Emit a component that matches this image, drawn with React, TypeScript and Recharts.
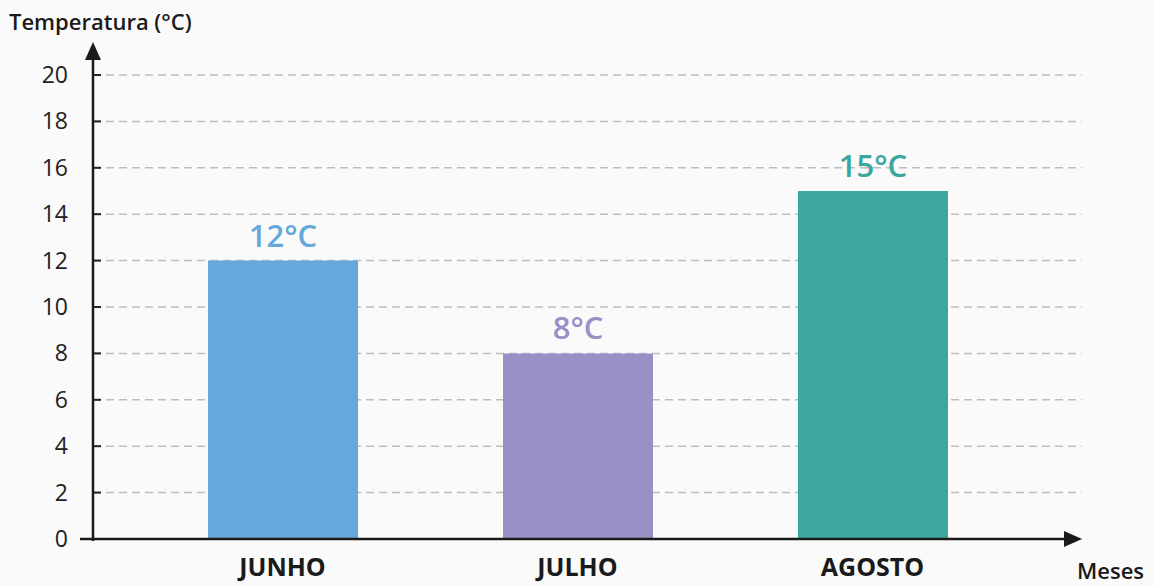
import React from "react";
import { BarChart, Bar, XAxis, YAxis, CartesianGrid, Cell, LabelList } from "recharts";

const months = ["JUNHO", "JULHO", "AGOSTO"];
const temperatures = [12, 8, 15];
const barColors = ["#67a8dc", "#9a90c5", "#3ca69f"];
const yTicks = [0, 2, 4, 6, 8, 10, 12, 14, 16, 18, 20];

const data = months.map((m, i) => ({ month: m, temp: temperatures[i], color: barColors[i] }));

const FONT = "'Open Sans', 'Noto Sans', sans-serif";

const YTick = (props: any) => {
  const { x, y, payload } = props;
  return (
    <g>
      <line x1={x + 25} x2={x + 33} y1={y} y2={y} stroke="#222" strokeWidth={2} />
      <text x={x} y={y} dy={8} textAnchor="end" fontSize={23} fill="#222" fontFamily={FONT}>
        {payload.value}
      </text>
    </g>
  );
};

const XTick = (props: any) => {
  const { x, y, payload } = props;
  return (
    <text x={x} y={y} dy={29} textAnchor="middle" fontSize={25} fontWeight={700} fill="#1a1a1a" fontFamily={FONT}>
      {payload.value}
    </text>
  );
};

const BarLabel = (props: any) => {
  const { x, y, width, index } = props;
  return (
    <text x={x + width / 2} y={y - 14} textAnchor="middle" fontSize={31} fontWeight={600} fill={barColors[index]} fontFamily={FONT}>
      {temperatures[index]}°C
    </text>
  );
};

export default function App() {
  return (
    <div style={{ position: "absolute", left: 0, top: 0, width: 1154, height: 586, background: "#fafafa", fontFamily: FONT }}>
      <BarChart
        width={1154}
        height={586}
        data={data}
        margin={{ top: 75, right: 72, bottom: 17, left: 33 }}
        barSize={150}
      >
        <CartesianGrid vertical={false} stroke="#bdbdbd" strokeDasharray="8 5" strokeWidth={1.5} />
        <XAxis
          dataKey="month"
          height={30}
          axisLine={false}
          tickLine={false}
          tick={<XTick />}
          padding={{ left: 42, right: 62 }}
          interval={0}
        />
        <YAxis
          width={60}
          domain={[0, 20]}
          ticks={yTicks}
          axisLine={false}
          tickLine={false}
          tickSize={0}
          tickMargin={25}
          tick={<YTick />}
          interval={0}
        />
        <Bar dataKey="temp" isAnimationActive={false}>
          {data.map((d, i) => (
            <Cell key={i} fill={d.color} />
          ))}
          <LabelList dataKey="temp" content={<BarLabel />} />
        </Bar>
      </BarChart>
      <svg width={1154} height={586} style={{ position: "absolute", left: 0, top: 0, pointerEvents: "none" }}>
        <line x1={93} y1={541} x2={93} y2={52} stroke="#1a1a1a" strokeWidth={2.5} />
        <polygon points="93,42 85,60 101,60" fill="#1a1a1a" />
        <line x1={80} y1={539} x2={1070} y2={539} stroke="#1a1a1a" strokeWidth={2.5} />
        <polygon points="1082,539 1064,531 1064,547" fill="#1a1a1a" />
        <text x={9} y={30} fontSize={22} fontWeight={600} fill="#1a1a1a" fontFamily={FONT}>
          Temperatura (°C)
        </text>
        <text x={1077} y={579} fontSize={22} fontWeight={600} fill="#1a1a1a" fontFamily={FONT}>
          Meses
        </text>
      </svg>
    </div>
  );
}
